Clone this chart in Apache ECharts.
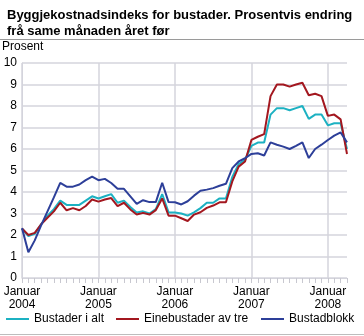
<!DOCTYPE html>
<html><head><meta charset="utf-8">
<script src="https://cdn.jsdelivr.net/npm/echarts@6/dist/echarts.min.js"></script>
<style>html,body{margin:0;padding:0;background:#fff}#c{width:364px;height:336px}</style>
</head><body><div id="c"></div>
<script>
const months = [];
for (let y = 2004; y <= 2008; y++) for (let m = 1; m <= 12; m++) { if (y === 2008 && m > 4) break; months.push(y + '-' + (m < 10 ? '0' + m : m)); }
const seriesNames = ['Bustader i alt', 'Einebustader av tre', 'Bustadblokk'];
const bustaderIAlt = [2.3,1.95,2.05,2.5,2.9,3.2,3.6,3.4,3.4,3.4,3.6,3.8,
  3.7,3.8,3.9,3.5,3.6,3.3,3.05,3.1,3.0,3.2,3.9,3.05,
  3.05,3.0,2.9,3.05,3.25,3.5,3.5,3.7,3.7,4.7,5.3,5.5,
  6.15,6.3,6.3,7.6,7.9,7.9,7.8,7.9,8.0,7.4,7.6,7.6,
  7.1,7.2,7.2,6.0];
const einebustader = [2.3,2.0,2.1,2.5,2.8,3.1,3.5,3.15,3.25,3.15,3.35,3.65,
  3.55,3.65,3.72,3.34,3.5,3.19,2.95,3.03,2.95,3.16,3.7,2.9,
  2.9,2.78,2.65,2.95,3.06,3.26,3.37,3.52,3.52,4.49,5.18,5.42,
  6.42,6.57,6.69,8.46,9.0,9.0,8.9,9.0,9.08,8.5,8.57,8.46,
  7.54,7.6,7.38,5.77];
const bustadblokk = [2.32,1.2,1.75,2.45,3.1,3.75,4.42,4.25,4.25,4.35,4.55,4.72,
  4.55,4.61,4.42,4.15,4.15,3.8,3.45,3.62,3.53,3.53,4.43,3.53,
  3.52,3.42,3.57,3.83,4.06,4.11,4.18,4.29,4.38,5.11,5.42,5.57,
  5.77,5.8,5.7,6.31,6.2,6.11,6.0,6.15,6.31,5.58,6.0,6.2,
  6.42,6.62,6.77,6.31];
const yTicks = [0,1,2,3,4,5,6,7,8,9,10];
const colors = ['#1cb1c2', '#a3171f', '#2d3f99'];
const font = 'Liberation Sans, Arial, sans-serif';
const legendLefts = [6, 116, 261];

const chart = echarts.init(document.getElementById('c'), null, {renderer: 'canvas'});
chart.setOption({
  animation: false,
  color: colors,
  textStyle: {fontFamily: font},
  title: {
    text: 'Byggjekostnadsindeks for bustader. Prosentvis endring\nfrå same månaden året før',
    left: 2, top: 2,
    textStyle: {fontSize: 13, fontWeight: 'bold', color: '#000', fontFamily: font, lineHeight: 16}
  },
  graphic: [
    {type: 'line', shape: {x1: 0, y1: 39.5, x2: 364, y2: 39.5}, style: {stroke: '#9a9a9a', lineWidth: 1}},
    {type: 'line', shape: {x1: 0, y1: 334.5, x2: 364, y2: 334.5}, style: {stroke: '#bdbdbd', lineWidth: 1}},
    {type: 'text', left: 2, top: 41, style: {text: 'Prosent', fontSize: 12, fill: '#000', fontFamily: font}}
  ],
  legend: seriesNames.map((n, i) => ({
    top: 313, left: legendLefts[i], itemWidth: 23, itemHeight: 2, icon: 'rect',
    padding: 0,
    textStyle: {fontSize: 12, color: '#000', fontFamily: font},
    data: [n]
  })),
  grid: {left: 22, right: 17, top: 63, bottom: 58, containLabel: false},
  xAxis: {
    type: 'category', data: months, boundaryGap: false,
    axisLine: {show: true, lineStyle: {color: '#d4d4dc'}},
    axisTick: {show: true, interval: 0, length: 5, lineStyle: {color: '#c8c8d0'}},
    axisLabel: {
      interval: (i) => i % 12 === 0,
      formatter: (v) => 'Januar\n' + v.slice(0, 4),
      fontSize: 12, color: '#000', lineHeight: 13, margin: 7, fontFamily: font
    },
    splitLine: {show: true, interval: (i) => i % 12 === 0, lineStyle: {color: '#d4d4dc', width: 1.5}}
  },
  yAxis: {
    type: 'value', min: 0, max: 10, interval: 1,
    axisLine: {show: true, lineStyle: {color: '#d4d4dc'}},
    axisTick: {show: false},
    axisLabel: {fontSize: 12, color: '#000', margin: 5, fontFamily: font,
      formatter: (v) => yTicks.includes(v) ? String(v) : ''},
    splitLine: {show: true, lineStyle: {color: '#d4d4dc', width: 1.5}}
  },
  series: [
    {name: seriesNames[0], type: 'line', data: bustaderIAlt, symbol: 'none', lineStyle: {width: 2}},
    {name: seriesNames[1], type: 'line', data: einebustader, symbol: 'none', lineStyle: {width: 2}},
    {name: seriesNames[2], type: 'line', data: bustadblokk, symbol: 'none', lineStyle: {width: 2}}
  ]
});
</script></body></html>
